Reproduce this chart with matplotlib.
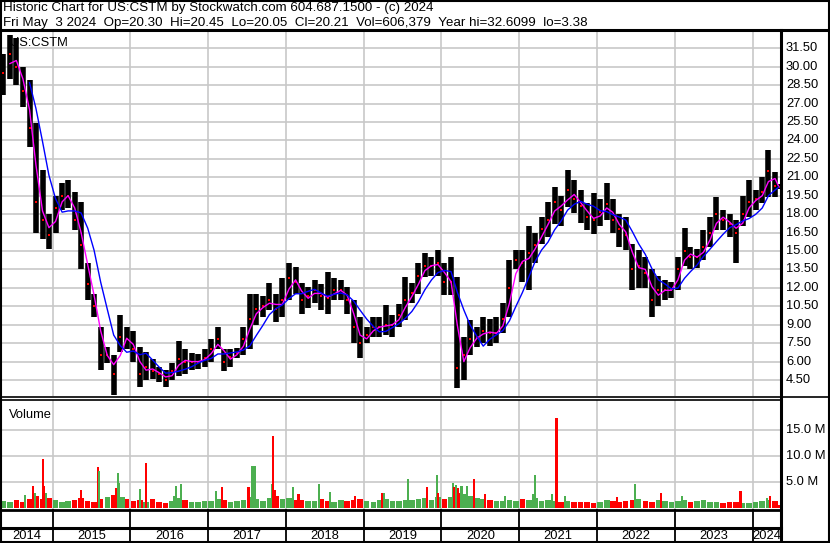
import numpy as np
import pandas as pd
import matplotlib
matplotlib.use('Agg')
import matplotlib.pyplot as plt
from matplotlib.lines import Line2D

plt.rcParams['font.family'] = ['Liberation Sans', 'DejaVu Sans']

# monthly bars, May 2014 .. May 2024 (last one is the partial month up to May 3)
months = list(pd.date_range('2014-05-01', '2024-04-01', freq='MS') + pd.Timedelta(days=14))
months.append(pd.Timestamp('2024-05-02'))

price_hi = [31.0, 32.6, 32.3, 30.0, 28.9, 25.4, 21.6, 18.0,
            19.5, 20.5, 20.8, 19.8, 19.0, 14.0, 11.5, 8.8, 7.2, 6.5, 9.8, 8.8,
            8.5, 7.2, 6.8, 6.2, 5.6, 5.3, 5.9, 7.7, 7.0, 6.7, 6.6, 7.0,
            7.8, 8.8, 7.0, 7.0, 7.1, 8.8, 11.5, 11.5, 11.3, 12.4, 11.5, 12.8,
            14.0, 13.7, 12.4, 12.1, 12.6, 12.3, 13.3, 12.8, 12.6, 12.1, 11.0, 9.6,
            8.8, 9.6, 9.6, 10.6, 9.8, 10.7, 12.9, 12.4, 14.0, 14.8, 14.5, 15.1,
            14.0, 14.5, 12.9, 8.0, 9.4, 8.8, 9.6, 9.5, 9.6, 10.8, 14.3, 15.1,
            15.1, 17.0, 16.5, 17.8, 19.0, 20.2, 19.5, 21.6, 20.8, 20.0, 18.9, 19.7,
            19.2, 20.5, 19.2, 18.0, 17.8, 15.6, 15.1, 14.5, 13.5, 13.0, 12.6, 12.5,
            14.5, 16.9, 15.3, 15.2, 16.7, 17.8, 19.4, 18.3, 18.0, 17.5, 19.5, 20.8,
            20.0, 21.0, 23.2, 21.4, 20.45]
price_lo = [27.7, 29.0, 28.5, 26.7, 23.5, 16.5, 16.0, 15.2,
            16.5, 18.3, 18.5, 16.7, 13.5, 11.0, 9.6, 5.3, 5.9, 3.3, 6.8, 7.0,
            6.0, 3.9, 4.5, 4.6, 4.3, 3.9, 4.5, 4.8, 5.0, 5.3, 5.4, 5.6,
            6.0, 7.0, 5.2, 5.6, 6.3, 6.5, 7.0, 9.0, 9.6, 10.2, 9.2, 9.6,
            11.0, 11.5, 9.9, 10.4, 10.8, 10.2, 9.9, 11.0, 11.0, 9.9, 7.5, 6.3,
            7.5, 8.0, 8.0, 8.2, 8.0, 8.8, 9.4, 10.8, 11.5, 12.9, 13.0, 13.0,
            11.4, 11.4, 3.85, 4.5, 6.5, 7.2, 7.5, 7.3, 7.5, 8.3, 9.6, 13.5,
            12.5, 11.8, 14.0, 15.6, 16.1, 17.2, 17.0, 18.6, 18.1, 17.3, 16.7, 16.4,
            17.0, 17.5, 16.5, 15.3, 15.1, 11.8, 12.0, 12.0, 9.6, 10.5, 11.0, 11.2,
            11.8, 13.8, 13.5, 13.6, 14.3, 15.3, 16.7, 16.7, 16.1, 14.0, 17.0, 17.8,
            18.3, 18.9, 19.4, 19.4, 20.05]
price_cl = [29.5, 31.0, 30.0, 28.0, 25.0, 19.0, 17.5, 16.3,
            18.5, 19.5, 19.5, 17.5, 15.5, 12.3, 10.5, 6.5, 6.5, 5.0, 8.0, 7.8,
            7.0, 5.0, 5.6, 5.2, 5.0, 4.5, 5.2, 6.2, 6.0, 6.0, 6.0, 6.3,
            7.0, 7.8, 6.0, 6.4, 6.7, 7.8, 9.5, 10.3, 10.5, 11.0, 10.3, 11.0,
            12.8, 12.5, 11.0, 11.3, 11.8, 11.3, 11.2, 11.8, 11.8, 11.0, 8.8, 7.5,
            8.2, 8.8, 8.8, 9.0, 9.0, 9.8, 11.0, 11.6, 13.0, 13.8, 13.8, 14.0,
            12.5, 12.5, 5.5, 6.5, 7.8, 8.0, 8.5, 8.3, 8.3, 9.5, 12.0, 14.3,
            14.0, 14.8, 15.5, 16.8, 17.5, 19.0, 18.3, 20.0, 19.2, 18.7, 17.8, 17.5,
            18.2, 18.8, 17.5, 16.8, 16.3, 13.5, 13.8, 13.2, 11.0, 11.8, 11.8, 11.8,
            13.5, 15.0, 14.5, 14.5, 15.3, 16.5, 18.0, 17.5, 17.2, 16.5, 18.0, 19.0,
            19.2, 19.8, 21.5, 20.3, 20.21]
# typical daily volume level per month (millions)
vol_month = [1.3, 1.1, 1.6, 1.2, 1.8, 2.3, 1.7, 1.9,
             1.5, 1.2, 1.4, 1.6, 1.9, 1.3, 1.1, 1.7, 2.1, 2.5, 2.2, 1.8,
             1.3, 1.5, 1.2, 1.7, 1.1, 1.0, 1.4, 1.9, 1.5, 1.2, 1.1, 1.3,
             1.4, 1.7, 1.6, 1.2, 1.3, 1.5, 2.2, 1.8, 1.4, 2.0, 2.3, 1.7,
             1.9, 1.6, 1.5, 1.3, 1.4, 1.7, 1.3, 1.2, 1.5, 1.4, 1.6, 1.8,
             1.3, 1.2, 1.5, 1.8, 1.4, 1.3, 1.6, 1.5, 1.7, 1.9, 1.6, 2.1,
             1.8, 2.2, 2.9, 2.7, 2.3, 1.9, 1.7, 1.5, 1.3, 1.4, 1.6, 1.3,
             1.7, 1.5, 1.9, 1.4, 1.6, 1.3, 1.2, 1.3, 1.1, 1.2, 1.1, 1.0,
             1.2, 1.5, 1.3, 1.2, 1.4, 1.6, 1.7, 1.3, 1.2, 1.5, 1.3, 1.1,
             1.4, 1.5, 1.2, 1.3, 1.6, 1.2, 1.1, 1.0, 1.2, 1.1, 0.9, 1.0,
             1.2, 1.3, 1.5, 1.4, 0.6]
# high volume days (millions), u = up day (green), d = down day (red)
spike_dates = ['2014-08-23', '2014-10-01', '2014-10-11', '2014-11-16', '2014-11-23', '2014-12-01',
               '2015-05-14', '2015-08-02', '2015-08-08', '2015-10-26', '2015-11-04', '2015-11-08',
               '2015-12-03', '2016-02-14', '2016-03-15', '2016-07-26', '2016-08-02', '2016-08-27',
               '2017-02-05', '2017-03-08', '2017-07-09', '2017-07-28', '2017-08-07', '2017-10-27',
               '2017-11-03', '2017-11-09', '2018-02-01', '2018-03-01', '2018-06-03', '2018-07-26',
               '2018-11-19', '2019-03-28', '2019-04-05', '2019-07-26', '2019-10-25', '2019-12-13',
               '2019-12-17', '2020-02-23', '2020-03-02', '2020-03-10', '2020-03-19', '2020-04-04',
               '2020-04-30', '2020-06-02', '2020-07-23', '2020-10-27', '2021-03-08', '2021-03-16',
               '2021-06-04', '2021-06-24', '2021-08-02', '2022-04-02', '2022-06-26', '2022-10-27',
               '2023-02-02', '2023-11-05', '2024-03-07', '2024-03-21']
spike_vol = [2.5, 4.2, 2.9, 9.4, 4.2, 2.9,
             3.5, 7.8, 7.1, 3.8, 6.8, 4.9,
             2.2, 3.7, 8.7, 2.4, 4.2, 4.6,
             3.3, 4.0, 4.0, 8.1, 8.1, 4.6,
             13.8, 3.5, 4.0, 2.6, 4.6, 3.1,
             2.4, 2.9, 2.9, 5.5, 4.1, 6.3,
             2.8, 4.9, 4.0, 4.4, 3.8, 4.3,
             4.3, 5.6, 2.7, 2.3, 2.7, 6.3,
             2.7, 17.4, 2.4, 2.2, 4.6, 2.9,
             2.4, 3.2, 2.0, 2.4]
spike_dir = ['u', 'd', 'u', 'd', 'd', 'u',
             'd', 'd', 'u', 'd', 'u', 'u',
             'u', 'u', 'd', 'u', 'u', 'u',
             'u', 'd', 'd', 'u', 'u', 'u',
             'd', 'd', 'u', 'd', 'u', 'u',
             'd', 'd', 'u', 'u', 'd', 'u',
             'd', 'u', 'd', 'u', 'd', 'u',
             'u', 'd', 'd', 'u', 'u', 'u',
             'u', 'd', 'u', 'd', 'u', 'd',
             'u', 'd', 'u', 'd']
years = list(range(2014, 2025))
price_ticks = [4.5 + 1.5 * i for i in range(19)]
vol_ticks = [5, 10, 15]

W, H = 830, 543
def fx(x):
    return x / W
def fy(y):
    return 1 - y / H

GRID = '#c8c8c8'
GREEN = '#4caf50'
RED = '#ff0000'
FS = 9.3
xmin, xmax = pd.Timestamp('2014-05-04'), pd.Timestamp('2024-05-13')

fig = plt.figure(figsize=(8.3, 5.43), dpi=100)

df = pd.DataFrame({'hi': price_hi, 'lo': price_lo, 'cl': price_cl}, index=pd.DatetimeIndex(months))
ma_short = df['cl'].rolling(2).mean()
ma_long = df['cl'].rolling(5).mean()

# price panel
ax = fig.add_axes([fx(1), fy(396), fx(781) - fx(1), fy(31) - fy(396)])
ax.set_xlim(xmin, xmax)
ax.set_ylim(3.2, 32.9)
for p in price_ticks:
    ax.axhline(p, color=GRID, lw=1.2, zorder=0)
for yr in years[1:]:
    ax.axvline(pd.Timestamp(f'{yr}-01-01'), color=GRID, lw=1.2, zorder=0)
ax.vlines(df.index, df['lo'], df['hi'], color='black', lw=4.0, zorder=2)
ax.plot(df.index, df['cl'], 's', color=RED, ms=1.7, mew=0, zorder=3)
ax.plot(ma_short.index, ma_short.values, color='#ff00ff', lw=1.0, zorder=4)
ax.plot(ma_long.index, ma_long.values, color='#0000ff', lw=1.0, zorder=4)
ax.axis('off')
ax.text(fx(10), fy(46), 'US:CSTM', transform=fig.transFigure, fontsize=FS, va='baseline')

# volume panel
av = fig.add_axes([fx(1), fy(509), fx(781) - fx(1), fy(400) - fy(509)])
av.set_xlim(xmin, xmax)
av.set_ylim(-0.2, 20.8)
for v in vol_ticks:
    av.axhline(v, color=GRID, lw=1.2, zorder=0)
for yr in years[1:]:
    av.axvline(pd.Timestamp(f'{yr}-01-01'), color=GRID, lw=1.2, zorder=0)
chg = df['cl'].diff().fillna(0)
vcol = [GREEN if c >= 0 else RED for c in chg]
av.bar(df.index, vol_month, width=26, color=vcol, zorder=2)
scol = [GREEN if d == 'u' else RED for d in spike_dir]
av.bar(pd.to_datetime(spike_dates), spike_vol, width=10, color=scol, zorder=3)
av.axis('off')
av.text(fx(9), fy(418), 'Volume', transform=fig.transFigure, fontsize=FS, va='baseline')

# date strip
ad = fig.add_axes([fx(1), fy(543), fx(781) - fx(1), fy(509) - fy(543)])
ad.set_xlim(xmin, xmax)
ad.set_ylim(0, 1)
ad.axis('off')
for yr in years[1:]:
    ad.axvline(pd.Timestamp(f'{yr}-01-01'), color='black', lw=1.3)
for yr in years:
    a = max(pd.Timestamp(f'{yr}-01-01'), xmin)
    b = min(pd.Timestamp(f'{yr + 1}-01-01'), xmax)
    ad.text(a + (b - a) / 2, 0.22, str(yr), ha='center', va='center', fontsize=FS)

# right scale labels
for p in price_ticks:
    yy = ax.transData.transform((0, p))[1] / H
    fig.text(fx(786), yy, f'{p:.2f}', fontsize=FS, va='center', ha='left')
for v in vol_ticks:
    yy = av.transData.transform((0, v))[1] / H
    fig.text(fx(786), yy, f'{v:.1f} M', fontsize=FS, va='center', ha='left')

# header
fig.text(fx(3), fy(10.5), 'Historic Chart for US:CSTM by Stockwatch.com 604.687.1500 - (c) 2024',
         fontsize=9.65, va='baseline')
fig.text(fx(3), fy(26), 'Fri May  3 2024  Op=20.30  Hi=20.45  Lo=20.05  Cl=20.21  Vol=606,379  '
         'Year hi=32.6099  lo=3.38', fontsize=9.65, va='baseline')

# frame lines
def hline(y, x0, x1, lw):
    fig.add_artist(Line2D([fx(x0), fx(x1)], [fy(y), fy(y)], color='black', lw=lw))
def vline(x, y0, y1, lw):
    fig.add_artist(Line2D([fx(x), fx(x)], [fy(y0), fy(y1)], color='black', lw=lw))

hline(30, 0, W, 2.2)
hline(397, 0, W, 1.2)
hline(400, 0, 781, 1.2)
hline(509.5, 0, 781, 2.0)
hline(527.5, 0, 781, 2.2)
vline(781, 30, H, 2.2)
hline(0.7, 0, W, 1.5)
hline(542.3, 0, W, 1.5)
vline(0.7, 0, H, 1.5)
vline(829.3, 0, H, 1.5)

fig.savefig('out.png', dpi=100)
